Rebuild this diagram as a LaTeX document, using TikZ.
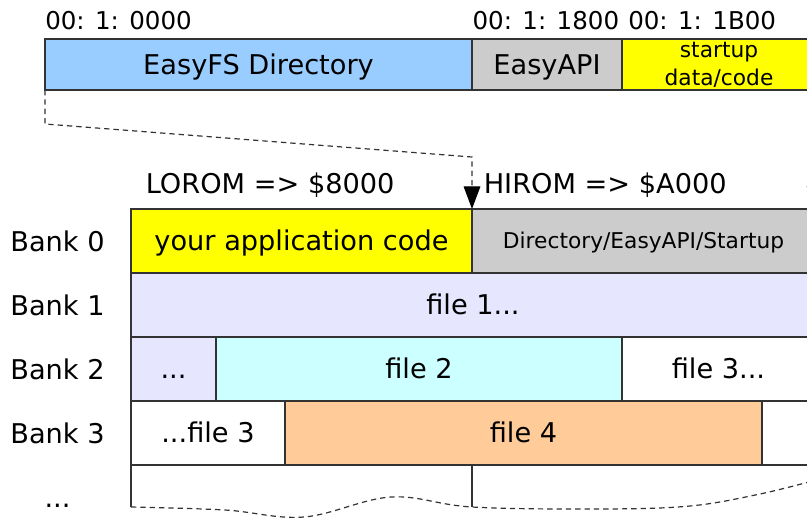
\documentclass[tikz,border=0pt]{standalone}
\usepackage{fontspec}
\setmainfont{DejaVu Sans}
\usetikzlibrary{arrows.meta}
\definecolor{cblue}{HTML}{99CCFF}
\definecolor{cgray}{HTML}{CCCCCC}
\definecolor{cyel}{HTML}{FFFF00}
\definecolor{clav}{HTML}{E6E6FF}
\definecolor{ccyan}{HTML}{CCFFFF}
\definecolor{corange}{HTML}{FFCC99}
\definecolor{cline}{HTML}{333333}
\begin{document}
\begin{tikzpicture}[x=0.75pt,y=-0.75pt,
  bigfont/.style={font=\fontsize{20.4}{24}\selectfont},
  smallfont/.style={font=\fontsize{16.3}{19}\selectfont},
  cell/.style={draw=cline, line width=1pt, anchor=north west, inner sep=0pt, outer sep=0pt,
    minimum height=48pt, text height=14.9pt, text depth=0pt, bigfont},
  smallcell/.style={cell, smallfont, text height=11.9pt},
  barcell/.style={cell, minimum height=38.25pt},
  addr/.style={anchor=base west, inner sep=0pt, font=\fontsize{18.4}{22}\selectfont},
  lbl/.style={anchor=base, inner sep=0pt, bigfont},
  lblw/.style={anchor=base west, inner sep=0pt, bigfont},
  slbl/.style={anchor=base, inner sep=0pt, smallfont},
  gridline/.style={draw=cline, line width=1pt},
  dashline/.style={draw=cline, line width=0.9pt, dash pattern=on 4pt off 3pt},
  tip/.style={-{Triangle[width=12.5pt,length=17pt,color=black,fill=black]}}]
\useasboundingbox (0,0) rectangle (807,519);
\clip (0,0) rectangle (807,519);

% top bar (sector layout)
\node[barcell, fill=cblue, minimum width=320.25pt] (dir) at (45,39) {EasyFS Directory};
\node[barcell, fill=cgray, minimum width=112.5pt] (api) at (472,39) {EasyAPI};
\node[barcell, fill=cyel, minimum width=144.75pt] (sd) at (622,39) {};
\node[slbl] (sdt1) at (719,57) {startup};
\node[slbl] (sdt2) at (719,85) {data/code};

\node[addr] (a0) at (45,29) {00: 1: 0000};
\node[addr] (a1) at (472.3,29) {00: 1: 1800};
\node[addr] (a2) at (628,29) {00: 1: 1B00};

% mapping labels
\node[lblw] (lorom) at (145.5,193) {LOROM => \$8000};
\node[lblw] (hirom) at (483.5,193) {HIROM => \$A000};

% bank rows
\node[cell, fill=cyel, minimum width=255.75pt] (app) at (131,209) {your application code};
\node[smallcell, fill=cgray, minimum width=257.25pt] (dirapi) at (472,209) {Directory/EasyAPI/Startup};

\node[cell, fill=clav, minimum width=513pt] (f1) at (131,273) {file 1...};

\node[cell, fill=clav, minimum width=63.75pt] (b2a) at (131,337) {...};
\node[cell, fill=ccyan, minimum width=304.5pt] (f2) at (216,337) {file 2};
\node[cell, fill=white, minimum width=144.75pt] (f3a) at (622,337) {file 3...};

\node[cell, fill=white, minimum width=115.5pt] (f3b) at (131,401) {...file 3};
\node[cell, fill=corange, minimum width=357.75pt] (f4) at (285,401) {file 4};
\node[cell, fill=white, minimum width=39.75pt] (b3c) at (762,401) {};

% bank labels
\node[lbl] (bk0) at (57.5,251) {Bank 0};
\node[lbl] (bk1) at (57.5,315) {Bank 1};
\node[lbl] (bk2) at (57.5,379) {Bank 2};
\node[lbl] (bk3) at (57.5,443) {Bank 3};
\node[lbl] (bkn) at (57.5,507) {...};

% open bottom row
\coordinate (wl) at (131,507);
\coordinate (wm) at (472,507);
\draw[gridline] (f3b.south west) -- (wl);
\draw[gridline] (wm |- f4.south) -- (wm);
\draw[dashline] plot[smooth, tension=0.6] coordinates {(131,507) (225,510) (304,517) (391,497) (472,507) (600,509) (690,506) (760,494) (816,480)};

% mapping connectors
\coordinate (bendA) at (45,124);
\coordinate (bendB) at (472,157);
\draw[dashline, tip] (dir.south west) -- (bendA) -- (bendB) -- (app.north east);
\draw[dashline, tip] (sd.south east) -- (dirapi.north east);
\end{tikzpicture}
\end{document}
